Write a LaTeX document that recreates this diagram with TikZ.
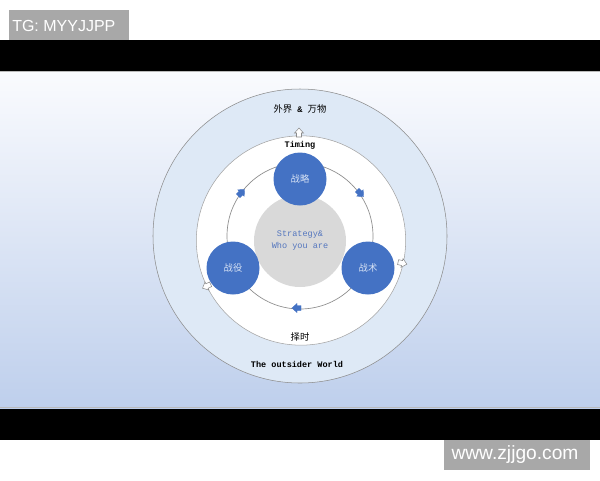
\documentclass[tikz,border=0pt]{standalone}
\usepackage{fontspec}
\setmainfont{Liberation Sans}
\newfontfamily\cjk{Noto Sans CJK SC}
\newfontfamily\monof{Liberation Mono}
\definecolor{officeblue}{RGB}{68,114,196}
\definecolor{outerfill}{RGB}{222,233,246}
\definecolor{slidetop}{RGB}{250,251,254}
\definecolor{slidemid}{RGB}{226,234,247}
\definecolor{slidebot}{RGB}{190,207,236}
\definecolor{graycirc}{RGB}{217,217,217}
\definecolor{labelgray}{RGB}{168,168,168}
\definecolor{ringline}{RGB}{140,140,140}
\definecolor{coretext}{RGB}{84,118,190}
\definecolor{paletext}{RGB}{215,226,244}
\tikzset{
  notcharrow/.pic={\path[pic actions] (-4,-2.5) -- (0,-2.5) -- (0,-4.5) -- (5,0) -- (0,4.5) -- (0,2.5) -- (-4,2.5) -- cycle;},
  bluearrow/.style={fill=officeblue, draw=officeblue, line width=0.3pt},
  whitearrow/.style={fill=white, draw=ringline, line width=0.4pt},
  ringcircle/.style={circle, inner sep=0pt},
  bluecircle/.style={circle, inner sep=0pt, fill=officeblue, minimum size=39.75pt, text=paletext, font=\cjk\fontsize{7}{8}\selectfont},
  blacklabel/.style={inner sep=0pt, text=black, font=\monof\bfseries\fontsize{6.4}{7}\selectfont},
  cjklabel/.style={inner sep=0pt, text=black, font=\cjk\fontsize{7}{8}\selectfont},
}
\begin{document}
\begin{tikzpicture}[x=0.75pt,y=-0.75pt]
\useasboundingbox (0,0) rectangle (600,480);
\fill[white] (0,0) rectangle (600,480);
% bands
\fill[black] (0,40) rectangle (600,71);
\fill[black] (0,408) rectangle (600,440);
\shade[top color=slidetop, middle color=slidemid, bottom color=slidebot] (0,71) rectangle (600,408);
\draw[ringline!60, line width=0.4pt] (0,71.3) -- (600,71.3);
\draw[ringline!60, line width=0.4pt] (0,407.7) -- (600,407.7);
% circles
\node[ringcircle, minimum size=220.5pt, fill=outerfill, draw=ringline, line width=0.4pt] (world) at (300,236) {};
\node[ringcircle, minimum size=157pt, fill=white, draw=ringline!80, line width=0.4pt] (timing) at (301,240.5) {};
\node[ringcircle, minimum size=109.5pt, draw=ringline, line width=0.5pt] (ring) at (300,236) {};
\node[ringcircle, minimum size=69pt, fill=graycirc, text=coretext, font=\monof\fontsize{6.4}{9}\selectfont, align=center] (core) at (300,241) {Strategy\&\\Who you are};
\node[bluecircle] (zhanlue) at (300,179) {战略};
\node[bluecircle] (zhanyi) at (233,268) {战役};
\node[bluecircle] (zhanshu) at (368,268) {战术};
% labels
\node[cjklabel] (outside) at (300,109) {外界{\monof\bfseries\fontsize{6.4}{7}\selectfont{} \& }万物};
\node[blacklabel] (timinglbl) at (300,145) {Timing};
\node[cjklabel] (zeshi) at (300,337) {择时};
\node[blacklabel] (worldlbl) at (297,364) {The outsider World};
% arrows on the ring
\pic[bluearrow, rotate=45] at (241,193) {notcharrow};
\pic[bluearrow, rotate=-45] at (360,193) {notcharrow};
\pic[bluearrow, rotate=180] at (297,308) {notcharrow};
% arrows on the middle circle
\pic[whitearrow, rotate=90] at (299,133) {notcharrow};
\pic[whitearrow, rotate=-13] at (402,263) {notcharrow};
\pic[whitearrow, rotate=206] at (207,286) {notcharrow};
% watermark labels
\fill[labelgray] (9,10) rectangle (129,40);
\node[anchor=west, inner sep=0pt, text=white, font=\fontsize{12}{12}\selectfont] (tg) at (12,25.5) {TG: MYYJJPP};
\fill[labelgray] (444,440) rectangle (590,470);
\node[inner sep=0pt, text=white, font=\fontsize{14.4}{14}\selectfont] (site) at (515,455) {www.zjjgo.com};
\end{tikzpicture}
\end{document}
